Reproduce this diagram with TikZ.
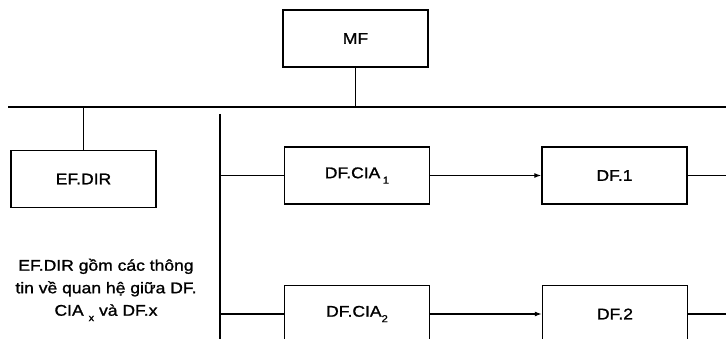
\documentclass[tikz,border=0pt]{standalone}
\usepackage{fontspec}
\setmainfont{Liberation Sans}[FakeStretch=1.13, FakeBold=1.2]
\usetikzlibrary{arrows.meta}
\newcommand{\lowsub}[1]{\raisebox{-0.35em}{\fontsize{10}{10}\selectfont #1}}
\tikzset{
  box/.style={draw, line width=1.4pt, minimum width=145pt, minimum height=57pt, inner sep=0pt, font=\fontsize{15.5}{18}\selectfont},
  conn/.style={line width=1.3pt},
  arr/.style={conn, -{Latex[length=7pt,width=5pt]}}
}
\begin{document}
\begin{tikzpicture}[x=1pt,y=-1pt]
\useasboundingbox (0,0) rectangle (726,339);
\clip (0,0) rectangle (726,339);
\node[box] (mf) at (355.5,38.5) {MF};
\node[box] (efdir) at (83.5,179) {EF.DIR};
\node[box] (cia1) at (357,175.5) {DF.CIA\,\lowsub{1}};
\node[box] (df1) at (614.5,175.5) {DF.1};
\node[box] (cia2) at (357,314) {DF.CIA\lowsub{2}};
\node[box] (df2) at (615,314) {DF.2};
\node[align=center, inner sep=0pt, font=\fontsize{15.5}{22.5}\selectfont] (note) at (106,290) {EF.DIR gồm các thông\\tin về quan hệ giữa DF.\\CIA \lowsub{x} và DF.x};
\coordinate (busL) at (8,107);
\coordinate (busR) at (726,107);
\coordinate (mfb) at (355.5,107);
\coordinate (efb) at (83.5,107);
\coordinate (vtop) at (220,114);
\coordinate (vbot) at (220,345);
\coordinate (j1) at (220,175.5);
\coordinate (j2) at (220,314);
\coordinate (r1) at (726,175.5);
\coordinate (r2) at (726,314);
\draw[conn] (busL) -- (busR);
\draw[conn] (mf.south) -- (mfb);
\draw[conn] (efb) -- (efdir.north);
\draw[conn] (vtop) -- (vbot);
\draw[conn] (j1) -- (cia1.west);
\draw[conn] (j2) -- (cia2.west);
\draw[arr] (cia1.east) -- (df1.west);
\draw[arr] (cia2.east) -- (df2.west);
\draw[conn] (df1.east) -- (r1);
\draw[conn] (df2.east) -- (r2);
\end{tikzpicture}
\end{document}
